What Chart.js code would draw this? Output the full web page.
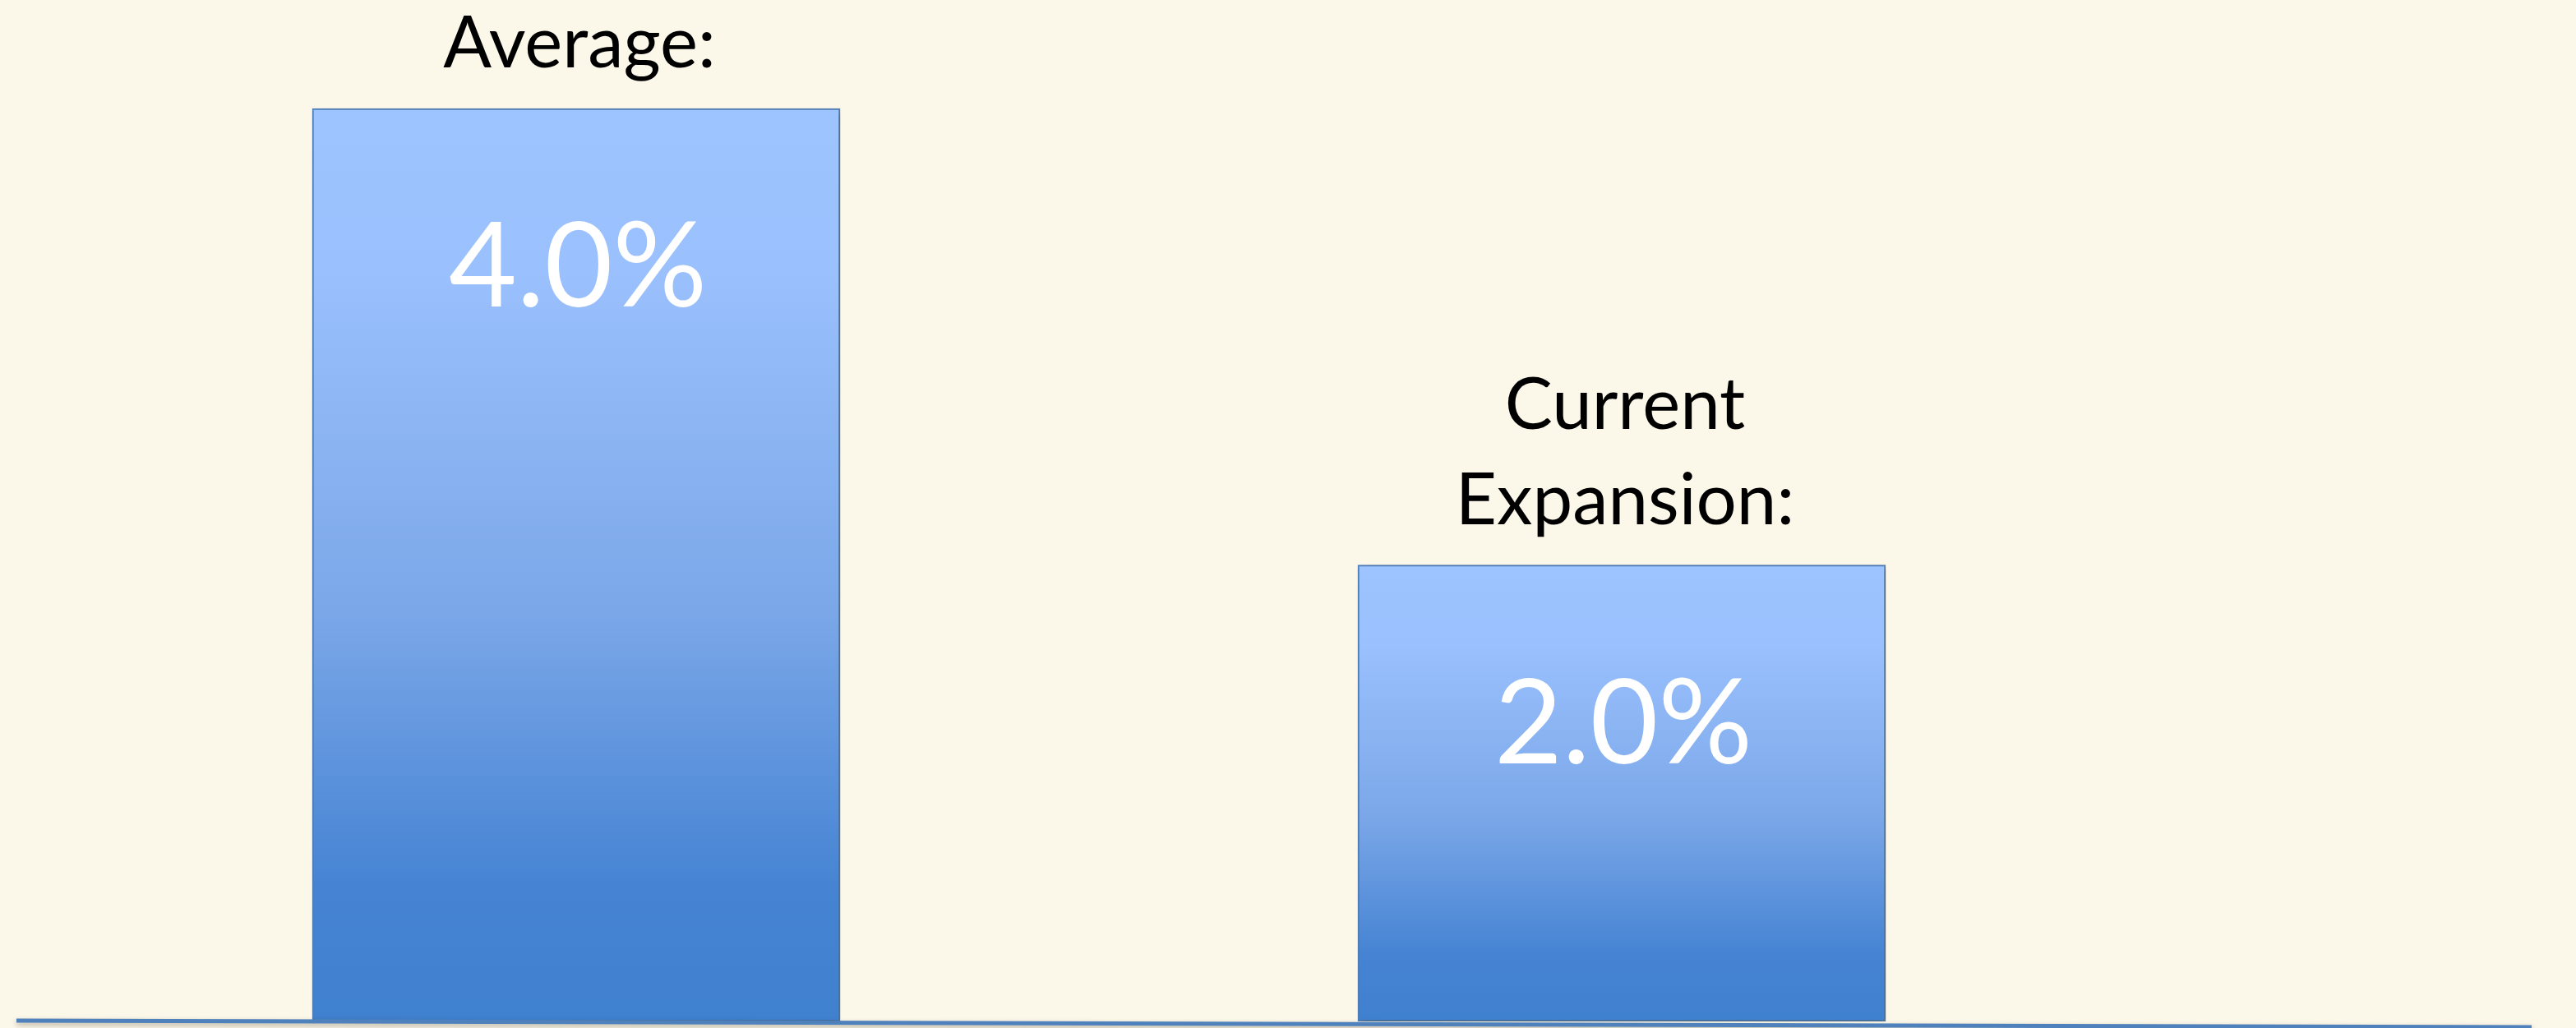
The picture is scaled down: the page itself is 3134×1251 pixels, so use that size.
<!DOCTYPE html>
<html>
<head>
<meta charset="utf-8">
<script src="https://cdn.jsdelivr.net/npm/chart.js@4"></script>
<style>
html,body{margin:0;padding:0;background:#fbf7e9;}
#wrap{width:3134px;height:1251px;}
</style>
</head>
<body>
<div id="wrap"><canvas id="growthChart" width="3134" height="1251"></canvas></div>
<script>
// categories (multi-line), values in percent
const categories=[["Average:"],["Current","Expansion:"]];
const growth=[4.0,2.0];
const valueLabels=["4.0%","2.0%"];

const FONT="Lato, 'Open Sans', sans-serif";

function barGradient(context){
if(context.type!=="data") return "#6f9fe4";
const chart=context.chart;
if(!chart.chartArea) return "#6f9fe4";
const y=chart.scales.y;
const top=y.getPixelForValue(context.raw);
const bottom=y.getPixelForValue(0);
const g=chart.ctx.createLinearGradient(0,top,0,bottom);
g.addColorStop(0,"#9ec4ff");
g.addColorStop(0.18,"#9ac0fd");
g.addColorStop(0.55,"#7ba7e8");
g.addColorStop(0.85,"#4684d3");
g.addColorStop(1,"#3f80cf");
return g;
}

/* soft shadow under the bars */
const barShadow={
id:"barShadow",
beforeDatasetsDraw(chart){
const c=chart.ctx;
c.save();
c.shadowColor="rgba(60,50,20,0.35)";
c.shadowBlur=8;
c.shadowOffsetX=3;
c.shadowOffsetY=3;
},
afterDatasetsDraw(chart){
chart.ctx.restore();
}
};

/* baseline running across the whole slide */
const baseline={
id:"baseline",
afterDatasetsDraw(chart){
const c=chart.ctx;
const y0=chart.scales.y.getPixelForValue(0);
c.save();
c.shadowColor="rgba(60,50,20,0.35)";
c.shadowBlur=6;
c.shadowOffsetY=3;
c.strokeStyle="#4f81bd";
c.lineWidth=5;
c.beginPath();
c.moveTo(20,y0-1);
c.lineTo(3080,y0+7);
c.stroke();
c.restore();
}
};

/* category name above each bar, value inside */
const barText={
id:"barText",
afterDatasetsDraw(chart){
const c=chart.ctx;
const meta=chart.getDatasetMeta(0);
c.save();
c.textAlign="center";
c.textBaseline="alphabetic";
meta.data.forEach((bar,i)=>{
const lines=chart.data.labels[i];
c.fillStyle="#000000";
c.font="87px "+FONT;
lines.forEach((ln,k)=>{
const by=bar.y-50-(lines.length-1-k)*116;
c.fillText(ln,bar.x+4,by);
});
c.fillStyle="#ffffff";
c.font="143px "+FONT;
c.fillText(valueLabels[i],bar.x+2,bar.y+241);
});
c.restore();
}
};

new Chart(document.getElementById("growthChart"),{
type:"bar",
data:{
labels:categories,
datasets:[{
data:growth,
backgroundColor:barGradient,
borderColor:"#4f81bd",
borderWidth:2,
borderSkipped:false,
barThickness:642
}]
},
options:{
responsive:false,
animation:false,
layout:{padding:{left:65,right:525,top:21,bottom:8}},
plugins:{
legend:{display:false},
tooltip:{enabled:false}
},
scales:{
x:{display:false},
y:{display:false,min:0,max:4.4}
}
},
plugins:[barShadow,baseline,barText]
});
</script>
</body>
</html>
